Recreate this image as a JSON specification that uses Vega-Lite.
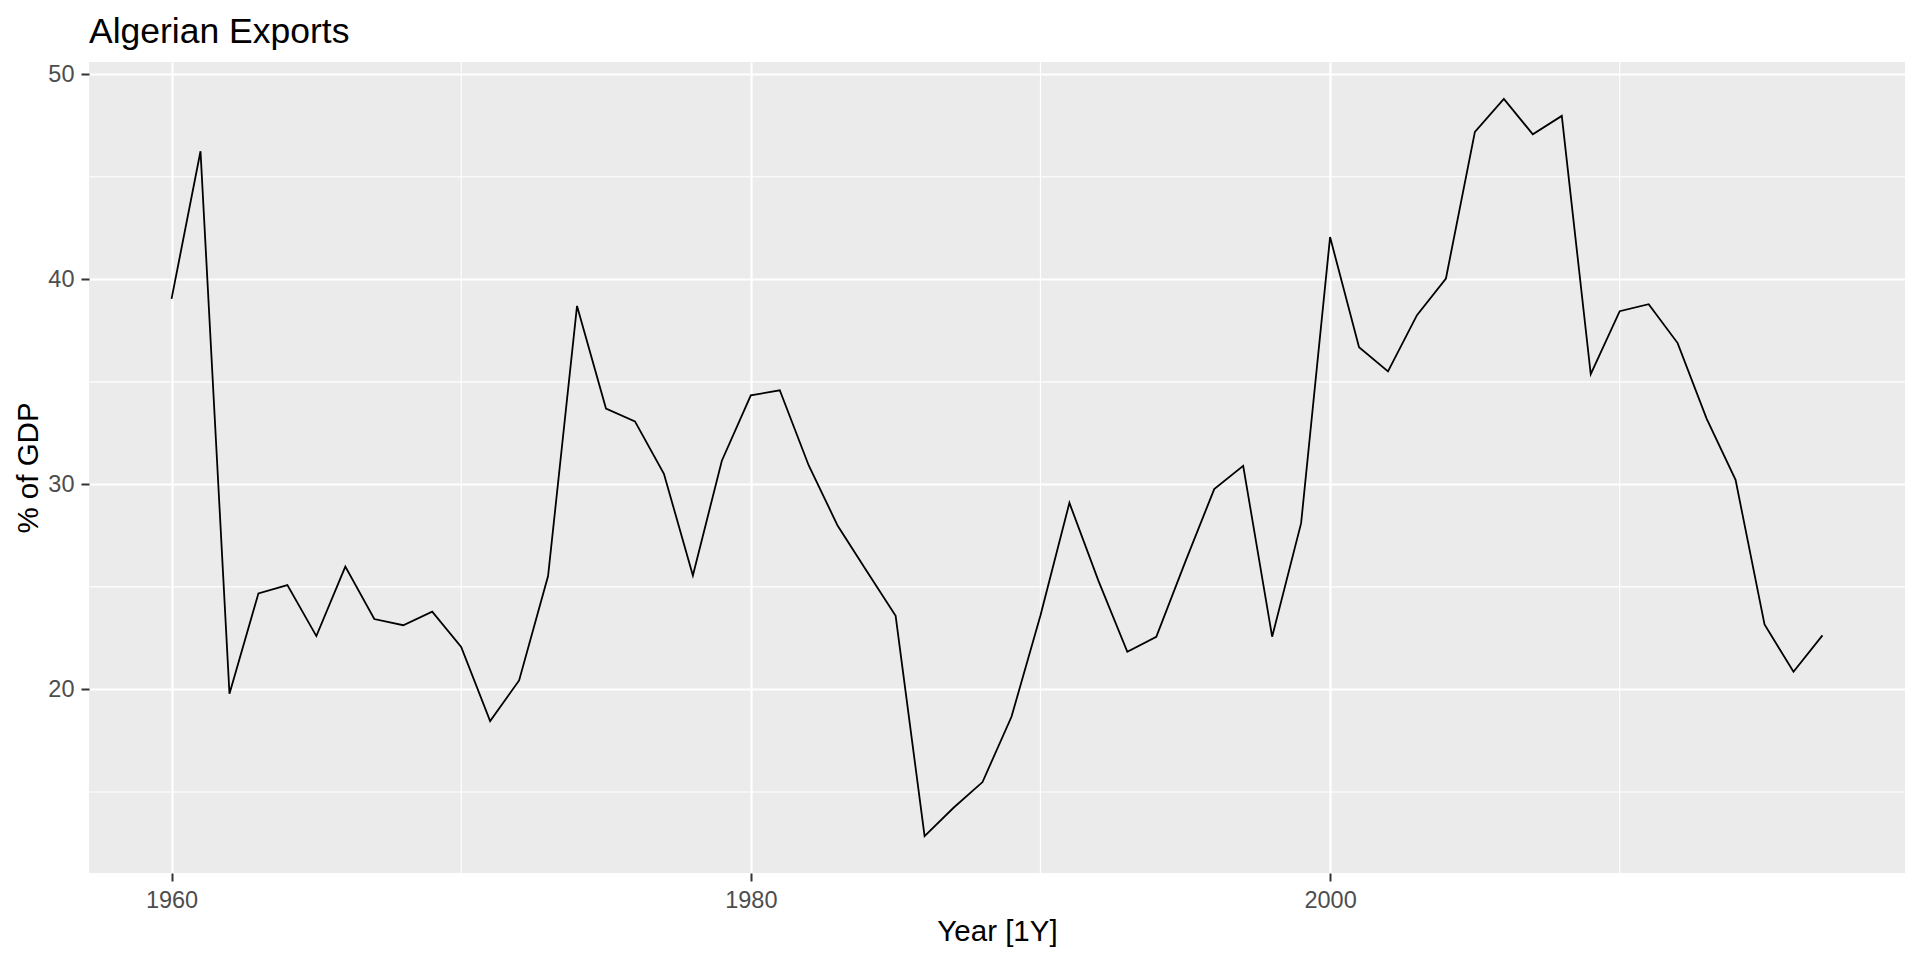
{
  "$schema": "https://vega.github.io/schema/vega-lite/v6.json",
  "width": 1816,
  "height": 811,
  "autosize": {"type": "none"},
  "padding": {"left": 89, "top": 62, "right": 15, "bottom": 87},
  "background": "white",
  "title": {
    "text": "Algerian Exports",
    "anchor": "start",
    "frame": "group",
    "baseline": "alphabetic",
    "offset": -17,
    "font": "Liberation Sans",
    "fontSize": 35.5,
    "fontWeight": "normal",
    "color": "black"
  },
  "config": {
    "view": {"fill": "#EBEBEB", "stroke": null},
    "axis": {
      "labelFont": "Liberation Sans",
      "labelFontSize": 23.5,
      "labelColor": "#4D4D4D",
      "tickColor": "#333333",
      "tickSize": 8,
      "tickWidth": 2,
      "labelPadding": 7,
      "domain": false,
      "grid": true,
      "gridColor": "white",
      "gridWidth": 2.2,
      "titleFont": "Liberation Sans",
      "titleFontSize": 29.5,
      "titleFontWeight": "normal",
      "titleColor": "black"
    }
  },
  "datasets": {
    "exports": [
      {"Year": 1960, "Exports": 39.04305},
      {"Year": 1961, "Exports": 46.24455},
      {"Year": 1962, "Exports": 19.79313},
      {"Year": 1963, "Exports": 24.68465},
      {"Year": 1964, "Exports": 25.0846},
      {"Year": 1965, "Exports": 22.60188},
      {"Year": 1966, "Exports": 25.98614},
      {"Year": 1967, "Exports": 23.43394},
      {"Year": 1968, "Exports": 23.13143},
      {"Year": 1969, "Exports": 23.78989},
      {"Year": 1970, "Exports": 22.07158},
      {"Year": 1971, "Exports": 18.45744},
      {"Year": 1972, "Exports": 20.43662},
      {"Year": 1973, "Exports": 25.52917},
      {"Year": 1974, "Exports": 38.70155},
      {"Year": 1975, "Exports": 33.69567},
      {"Year": 1976, "Exports": 33.07134},
      {"Year": 1977, "Exports": 30.51505},
      {"Year": 1978, "Exports": 25.56034},
      {"Year": 1979, "Exports": 31.15202},
      {"Year": 1980, "Exports": 34.33916},
      {"Year": 1981, "Exports": 34.58796},
      {"Year": 1982, "Exports": 30.92286},
      {"Year": 1983, "Exports": 27.97934},
      {"Year": 1984, "Exports": 25.77081},
      {"Year": 1985, "Exports": 23.59115},
      {"Year": 1986, "Exports": 12.84618},
      {"Year": 1987, "Exports": 14.22855},
      {"Year": 1988, "Exports": 15.48302},
      {"Year": 1989, "Exports": 18.66807},
      {"Year": 1990, "Exports": 23.6033},
      {"Year": 1991, "Exports": 29.09811},
      {"Year": 1992, "Exports": 25.30573},
      {"Year": 1993, "Exports": 21.83722},
      {"Year": 1994, "Exports": 22.56071},
      {"Year": 1995, "Exports": 26.21879},
      {"Year": 1996, "Exports": 29.77113},
      {"Year": 1997, "Exports": 30.90599},
      {"Year": 1998, "Exports": 22.57163},
      {"Year": 1999, "Exports": 28.10765},
      {"Year": 2000, "Exports": 42.05876},
      {"Year": 2001, "Exports": 36.69064},
      {"Year": 2002, "Exports": 35.51208},
      {"Year": 2003, "Exports": 38.25137},
      {"Year": 2004, "Exports": 40.04003},
      {"Year": 2005, "Exports": 47.18862},
      {"Year": 2006, "Exports": 48.79956},
      {"Year": 2007, "Exports": 47.06982},
      {"Year": 2008, "Exports": 47.97049},
      {"Year": 2009, "Exports": 35.37164},
      {"Year": 2010, "Exports": 38.44379},
      {"Year": 2011, "Exports": 38.78555},
      {"Year": 2012, "Exports": 36.89063},
      {"Year": 2013, "Exports": 33.20979},
      {"Year": 2014, "Exports": 30.21911},
      {"Year": 2015, "Exports": 23.17177},
      {"Year": 2016, "Exports": 20.86},
      {"Year": 2017, "Exports": 22.63887}
    ],
    "minorX": [{"Year": 1970}, {"Year": 1990}, {"Year": 2010}],
    "minorY": [{"Exports": 15}, {"Exports": 25}, {"Exports": 35}, {"Exports": 45}]
  },
  "layer": [
    {
      "data": {"name": "minorX"},
      "mark": {"type": "rule", "color": "white", "strokeWidth": 1.1},
      "encoding": {
        "x": {"field": "Year", "type": "quantitative"}
      }
    },
    {
      "data": {"name": "minorY"},
      "mark": {"type": "rule", "color": "white", "strokeWidth": 1.1},
      "encoding": {
        "y": {"field": "Exports", "type": "quantitative"}
      }
    },
    {
      "data": {"name": "exports"},
      "mark": {"type": "line", "color": "black", "strokeWidth": 1.8},
      "encoding": {
        "x": {
          "field": "Year",
          "type": "quantitative",
          "scale": {"domain": [1957.15, 2019.85], "nice": false, "zero": false},
          "axis": {
            "values": [1960, 1980, 2000],
            "format": "d",
            "title": "Year [1Y]",
            "titleBaseline": "alphabetic",
            "titleY": 67,
            "titleAnchor": "middle"
          }
        },
        "y": {
          "field": "Exports",
          "type": "quantitative",
          "scale": {"domain": [11.048, 50.598], "nice": false, "zero": false},
          "axis": {
            "values": [20, 30, 40, 50],
            "title": "% of GDP",
            "titleAngle": 270,
            "titleBaseline": "alphabetic",
            "titleX": -52,
            "titleAnchor": "middle"
          }
        }
      }
    }
  ]
}
